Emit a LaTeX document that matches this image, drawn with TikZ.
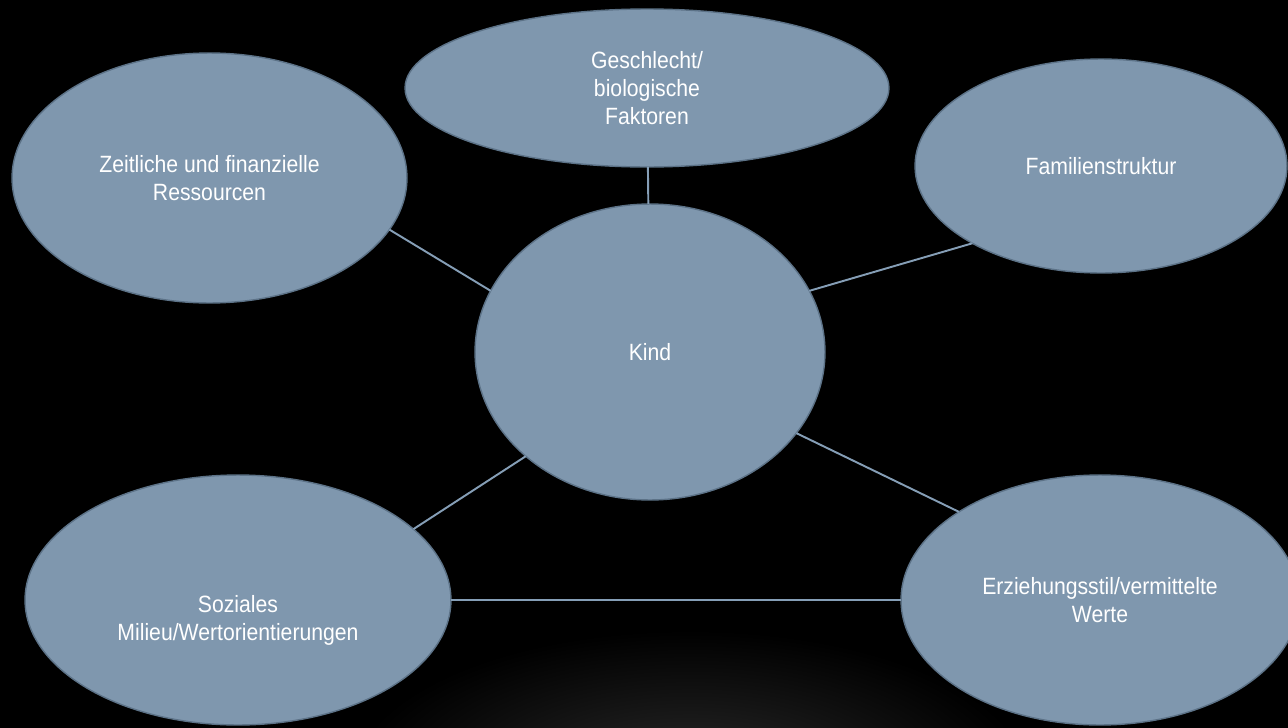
\documentclass[tikz,border=0pt]{standalone}
\usepackage{fontspec}
\setmainfont{Liberation Sans}[FakeStretch=0.9]
\usetikzlibrary{shapes.geometric}

\definecolor{bubble}{RGB}{127,151,174}
\definecolor{bubbleedge}{RGB}{92,114,135}
\definecolor{linkcol}{RGB}{133,158,182}
\definecolor{glowcol}{RGB}{42,42,42}

\begin{document}
\begin{tikzpicture}[x=0.02cm, y=-0.02cm,
    factor/.style={ellipse, fill=bubble, draw=bubbleedge, line width=0.8pt,
      inner sep=0pt, outer sep=0pt, text=white, align=center,
      font=\fontsize{13.4}{15.9}\selectfont},
    factortext/.style={text=white, align=center, inner sep=0pt,
      font=\fontsize{13.4}{15.9}\selectfont},
    link/.style={draw=linkcol, line width=1.1pt}]

    % background with soft glow at the bottom
    \useasboundingbox (0,0) rectangle (1288,727);
    \fill[black] (-20,-20) rectangle (1308,747);
    \begin{scope}
      \clip (-20,-20) rectangle (1308,727);
      \shade[inner color=glowcol, outer color=black] (690,780) ellipse (340 and 150);
    \end{scope}

    % factors
    \node[factor, minimum width=9.68cm, minimum height=3.16cm] (ges) at (647,88)
      {Geschlecht/\\biologische\\Faktoren};
    \node[factor, minimum width=7.9cm, minimum height=5cm] (zeit) at (209.5,178)
      {Zeitliche und finanzielle\\Ressourcen};
    \node[factor, minimum width=7.44cm, minimum height=4.28cm] (fam) at (1101,166)
      {Familienstruktur};
    \node[factor, minimum width=7cm, minimum height=5.92cm] (kind) at (650,352)
      {Kind};
    \node[factor, minimum width=8.52cm, minimum height=5cm] (soz) at (238,600) {};
    \node[factortext] (soztext) at (238,620) {Soziales\\Milieu/Wertorientierungen};
    \node[factor, minimum width=7.96cm, minimum height=5cm] (erz) at (1100,600)
      {Erziehungsstil/vermittelte\\Werte};

    % connections
    \draw[link] (ges) -- (kind);
    \draw[link] (zeit.-16) -- (kind.159);
    \draw[link] (kind.21) -- (fam.211);
    \draw[link] (kind.220) -- (soz.22);
    \draw[link] (kind.-29) -- (erz.148);
    \draw[link] (soz.east) -- (erz.west);
\end{tikzpicture}
\end{document}
